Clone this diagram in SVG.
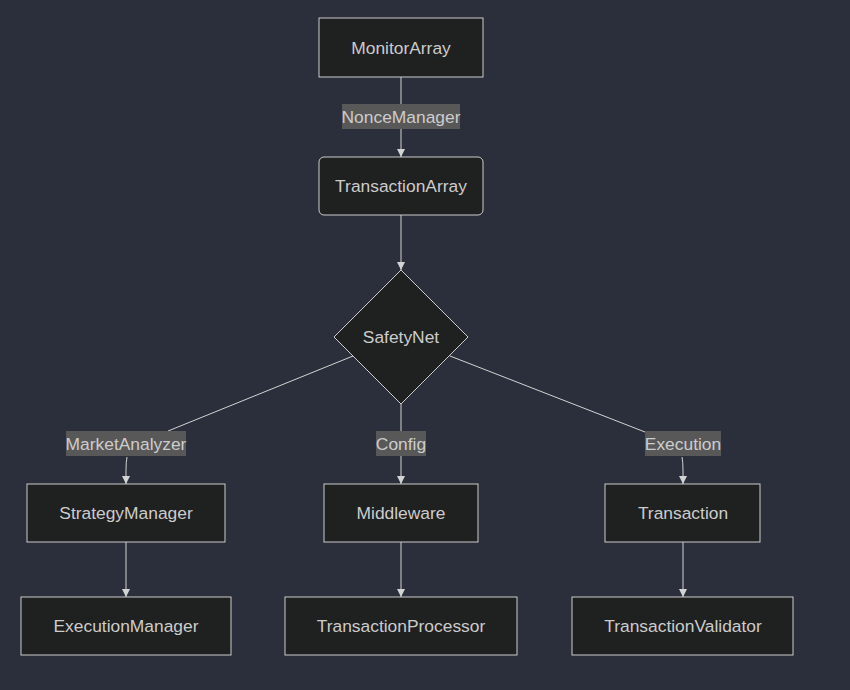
<svg xmlns="http://www.w3.org/2000/svg" width="850" height="690" viewBox="0 0 850 690">
<defs>
<style>
.bg{fill:#2a2f3b}
.node rect,.node polygon{fill:#1f2020;stroke:#cccccc;stroke-width:1}
.lbl{font-family:"Liberation Sans",Arial,sans-serif;font-size:17.4px;fill:#cccccc;text-anchor:middle;dominant-baseline:central}
.edge{fill:none;stroke:#d3d3d3;stroke-width:1}
.elbg{fill:#585858}
</style>
<marker id="arr" viewBox="0 0 10 10" refX="10" refY="5" markerWidth="8" markerHeight="8" orient="auto" markerUnits="userSpaceOnUse">
<path d="M0,0 L10,5 L0,10 z" fill="#d3d3d3"/>
</marker>
</defs>
<rect class="bg" x="0" y="0" width="850" height="690"/>
<g id="connectors">
<path class="edge" d="M401,77 L401,157" marker-end="url(#arr)"/>
<path class="edge" d="M401,215 L401,270" marker-end="url(#arr)"/>
<path class="edge" d="M353,356 L168,431 M127,457 Q126,462 126,470 L126,484" marker-end="url(#arr)"/>
<path class="edge" d="M401,404 L401,484" marker-end="url(#arr)"/>
<path class="edge" d="M450,356 L645,432 M682,457 Q683,462 683,470 L683,484" marker-end="url(#arr)"/>
<path class="edge" d="M126,542 L126,597" marker-end="url(#arr)"/>
<path class="edge" d="M401,542 L401,597" marker-end="url(#arr)"/>
<path class="edge" d="M683,542 L683,597" marker-end="url(#arr)"/>
<g id="edge-labels">
<rect class="elbg" x="342" y="104" width="118" height="25"/>
<text class="lbl" x="401" y="117">NonceManager</text>
<rect class="elbg" x="66" y="431" width="120" height="25"/>
<text class="lbl" x="126" y="444">MarketAnalyzer</text>
<rect class="elbg" x="376" y="431" width="50" height="25"/>
<text class="lbl" x="401" y="444">Config</text>
<rect class="elbg" x="645" y="431" width="76" height="25"/>
<text class="lbl" x="683" y="444">Execution</text>
</g>
</g>
<g id="MonitorArray" class="node"><rect x="319" y="18" width="164" height="59"/><text class="lbl" x="401" y="48">MonitorArray</text></g>
<g id="TransactionArray" class="node"><rect x="319" y="157" width="164" height="58" rx="5" ry="5"/><text class="lbl" x="401" y="186">TransactionArray</text></g>
<g id="SafetyNet" class="node"><polygon points="401,270 468,337 401,404 334,337"/><text class="lbl" x="401" y="337">SafetyNet</text></g>
<g id="StrategyManager" class="node"><rect x="27" y="484" width="198" height="58"/><text class="lbl" x="126" y="513">StrategyManager</text></g>
<g id="Middleware" class="node"><rect x="324" y="484" width="154" height="58"/><text class="lbl" x="401" y="513">Middleware</text></g>
<g id="Transaction" class="node"><rect x="605" y="484" width="155" height="58"/><text class="lbl" x="683" y="513">Transaction</text></g>
<g id="ExecutionManager" class="node"><rect x="21" y="597" width="210" height="58"/><text class="lbl" x="126" y="626">ExecutionManager</text></g>
<g id="TransactionProcessor" class="node"><rect x="285" y="597" width="232" height="58"/><text class="lbl" x="401" y="626">TransactionProcessor</text></g>
<g id="TransactionValidator" class="node"><rect x="572" y="597" width="221" height="58"/><text class="lbl" x="683" y="626">TransactionValidator</text></g>
</svg>
